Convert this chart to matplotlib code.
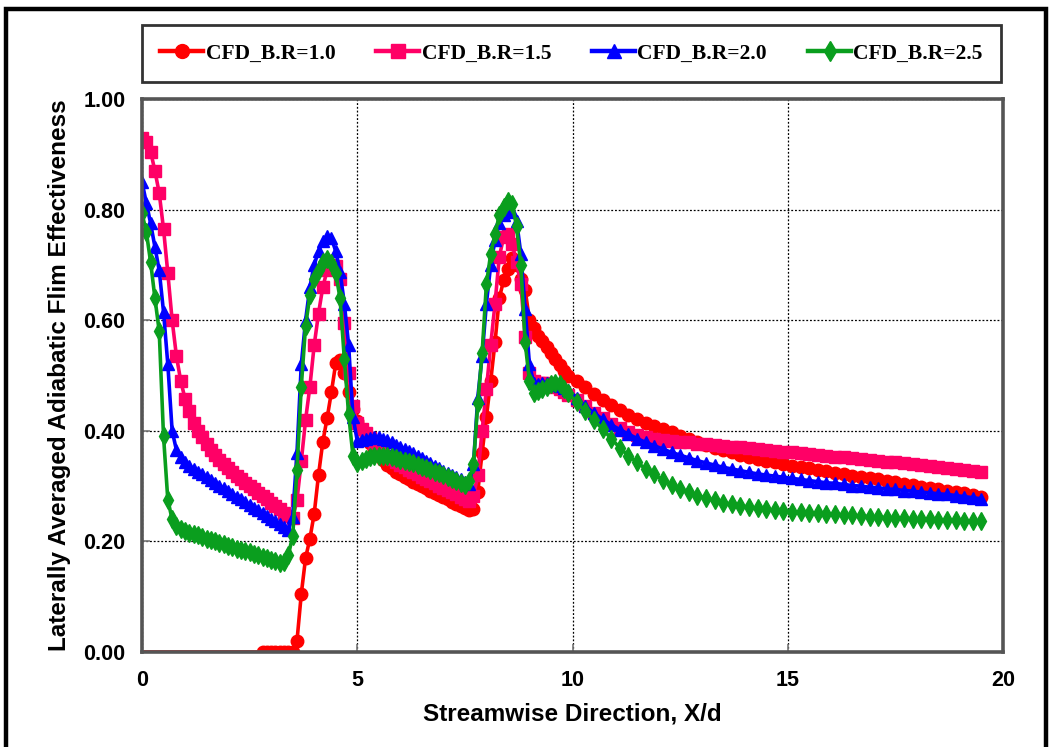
import matplotlib
matplotlib.use("Agg")
import matplotlib.pyplot as plt
from matplotlib.patches import Rectangle
from matplotlib.lines import Line2D

# Streamwise stations X/d
x_near = [0.0, 0.1, 0.2, 0.3, 0.4, 0.5, 0.6, 0.7, 0.8, 0.9,
          1.0, 1.1, 1.2, 1.3, 1.4, 1.5, 1.6, 1.7, 1.8, 1.9,
          2.0, 2.1, 2.2, 2.3, 2.4, 2.5, 2.6, 2.7, 2.8, 2.9,
          3.0, 3.1, 3.2, 3.3, 3.4, 3.5, 3.6, 3.7, 3.8, 3.9,
          4.0, 4.1, 4.2, 4.3, 4.4, 4.5, 4.6, 4.7, 4.8, 4.9,
          5.0, 5.1, 5.2, 5.3, 5.4, 5.5, 5.6, 5.7, 5.8, 5.9,
          6.0, 6.1, 6.2, 6.3, 6.4, 6.5, 6.6, 6.7, 6.8, 6.9,
          7.0, 7.1, 7.2, 7.3, 7.4, 7.5, 7.6, 7.7, 7.8, 7.9,
          8.0, 8.1, 8.2, 8.3, 8.4, 8.5, 8.6, 8.7, 8.8, 8.9,
          9.0, 9.1, 9.2, 9.3, 9.4, 9.5, 9.6, 9.7, 9.8, 9.9]
x_far = [10.1, 10.3, 10.5, 10.7, 10.9, 11.1, 11.3, 11.5, 11.7, 11.9,
         12.1, 12.3, 12.5, 12.7, 12.9, 13.1, 13.3, 13.5, 13.7, 13.9,
         14.1, 14.3, 14.5, 14.7, 14.9, 15.1, 15.3, 15.5, 15.7, 15.9,
         16.1, 16.3, 16.5, 16.7, 16.9, 17.1, 17.3, 17.5, 17.7, 17.9,
         18.1, 18.3, 18.5, 18.7, 18.9, 19.1, 19.3, 19.5]
x_d = x_near + x_far

# Laterally averaged adiabatic film effectiveness, blowing ratio 1.0
eta_br10 = [0.000, 0.000, 0.000, 0.000, 0.000, 0.000, 0.000, 0.000, 0.000, 0.000,
            0.000, 0.000, 0.000, 0.000, 0.000, 0.000, 0.000, 0.000, 0.000, 0.000,
            0.000, 0.000, 0.000, 0.000, 0.000, 0.000, 0.000, 0.000, 0.000, 0.000,
            0.000, 0.000, 0.000, 0.000, 0.000, 0.000, 0.020, 0.105, 0.170, 0.205,
            0.250, 0.320, 0.380, 0.423, 0.470, 0.522, 0.528, 0.505, 0.470, 0.440,
            0.418, 0.404, 0.391, 0.378, 0.366, 0.356, 0.347, 0.339, 0.332, 0.326,
            0.321, 0.316, 0.312, 0.308, 0.304, 0.300, 0.296, 0.292, 0.288, 0.284,
            0.280, 0.276, 0.272, 0.268, 0.264, 0.260, 0.256, 0.258, 0.290, 0.360,
            0.425, 0.490, 0.560, 0.640, 0.672, 0.692, 0.712, 0.700, 0.675, 0.655,
            0.600, 0.585, 0.572, 0.562, 0.551, 0.540, 0.529, 0.519, 0.509, 0.500,
            0.490, 0.479, 0.467, 0.456, 0.446, 0.437, 0.429, 0.422, 0.415, 0.409,
            0.403, 0.397, 0.391, 0.385, 0.379, 0.374, 0.369, 0.365, 0.361, 0.357,
            0.353, 0.349, 0.346, 0.343, 0.340, 0.337, 0.334, 0.332, 0.329, 0.327,
            0.324, 0.322, 0.319, 0.317, 0.314, 0.312, 0.309, 0.307, 0.304, 0.302,
            0.299, 0.297, 0.294, 0.292, 0.289, 0.287, 0.284, 0.280]

# Blowing ratio 1.5
eta_br15 = [0.930, 0.922, 0.905, 0.870, 0.830, 0.765, 0.685, 0.600, 0.535, 0.490,
            0.458, 0.435, 0.415, 0.400, 0.388, 0.376, 0.366, 0.357, 0.348, 0.340,
            0.333, 0.326, 0.319, 0.312, 0.306, 0.300, 0.294, 0.288, 0.282, 0.276,
            0.270, 0.264, 0.258, 0.252, 0.246, 0.242, 0.275, 0.345, 0.420, 0.480,
            0.555, 0.612, 0.660, 0.690, 0.700, 0.698, 0.675, 0.595, 0.505, 0.445,
            0.415, 0.404, 0.396, 0.387, 0.378, 0.370, 0.362, 0.355, 0.349, 0.344,
            0.339, 0.334, 0.329, 0.325, 0.321, 0.317, 0.313, 0.309, 0.305, 0.301,
            0.297, 0.293, 0.289, 0.285, 0.281, 0.277, 0.273, 0.282, 0.320, 0.400,
            0.475, 0.555, 0.630, 0.715, 0.750, 0.755, 0.738, 0.705, 0.665, 0.570,
            0.505, 0.490, 0.487, 0.486, 0.486, 0.484, 0.480, 0.476, 0.471, 0.465,
            0.456, 0.444, 0.433, 0.423, 0.413, 0.405, 0.398, 0.393, 0.389, 0.386,
            0.384, 0.382, 0.380, 0.379, 0.377, 0.376, 0.374, 0.373, 0.371, 0.370,
            0.368, 0.367, 0.365, 0.364, 0.362, 0.361, 0.359, 0.358, 0.356, 0.355,
            0.353, 0.352, 0.350, 0.349, 0.347, 0.346, 0.344, 0.343, 0.341, 0.340,
            0.338, 0.336, 0.335, 0.333, 0.331, 0.330, 0.328, 0.326]

# Blowing ratio 2.0
eta_br20 = [0.850, 0.812, 0.775, 0.733, 0.690, 0.615, 0.520, 0.400, 0.365, 0.352,
            0.344, 0.337, 0.331, 0.326, 0.321, 0.316, 0.311, 0.306, 0.301, 0.296,
            0.291, 0.286, 0.281, 0.276, 0.271, 0.266, 0.261, 0.256, 0.251, 0.246,
            0.241, 0.236, 0.231, 0.226, 0.221, 0.245, 0.360, 0.520, 0.600, 0.660,
            0.700, 0.725, 0.743, 0.752, 0.748, 0.725, 0.688, 0.630, 0.555, 0.425,
            0.382, 0.383, 0.385, 0.387, 0.388, 0.388, 0.386, 0.383, 0.379, 0.375,
            0.371, 0.367, 0.363, 0.359, 0.355, 0.351, 0.346, 0.342, 0.337, 0.333,
            0.328, 0.324, 0.320, 0.316, 0.312, 0.308, 0.304, 0.340, 0.460, 0.535,
            0.630, 0.700, 0.745, 0.775, 0.790, 0.800, 0.795, 0.780, 0.720, 0.620,
            0.520, 0.486, 0.485, 0.486, 0.486, 0.485, 0.483, 0.481, 0.478, 0.473,
            0.460, 0.444, 0.432, 0.421, 0.411, 0.402, 0.394, 0.386, 0.379, 0.373,
            0.367, 0.361, 0.356, 0.351, 0.346, 0.342, 0.338, 0.334, 0.331, 0.328,
            0.325, 0.322, 0.320, 0.318, 0.316, 0.314, 0.312, 0.310, 0.308, 0.306,
            0.305, 0.303, 0.301, 0.300, 0.298, 0.297, 0.295, 0.294, 0.292, 0.291,
            0.289, 0.288, 0.286, 0.285, 0.283, 0.281, 0.279, 0.277]

# Blowing ratio 2.5
eta_br25 = [0.793, 0.760, 0.705, 0.640, 0.580, 0.390, 0.275, 0.240, 0.228, 0.222,
            0.219, 0.216, 0.213, 0.211, 0.208, 0.205, 0.203, 0.200, 0.198, 0.195,
            0.192, 0.190, 0.187, 0.185, 0.182, 0.180, 0.177, 0.175, 0.172, 0.170,
            0.167, 0.164, 0.161, 0.162, 0.175, 0.210, 0.330, 0.480, 0.590, 0.645,
            0.675, 0.690, 0.705, 0.710, 0.703, 0.685, 0.640, 0.530, 0.430, 0.355,
            0.342, 0.345, 0.349, 0.352, 0.354, 0.355, 0.355, 0.354, 0.352, 0.350,
            0.348, 0.346, 0.344, 0.341, 0.338, 0.335, 0.332, 0.329, 0.326, 0.323,
            0.320, 0.317, 0.313, 0.309, 0.305, 0.302, 0.310, 0.340, 0.450, 0.540,
            0.665, 0.720, 0.755, 0.790, 0.805, 0.815, 0.810, 0.770, 0.700, 0.560,
            0.490, 0.468, 0.472, 0.476, 0.480, 0.484, 0.486, 0.484, 0.476, 0.468,
            0.452, 0.435, 0.419, 0.403, 0.386, 0.369, 0.355, 0.343, 0.331, 0.321,
            0.311, 0.302, 0.295, 0.289, 0.283, 0.278, 0.274, 0.270, 0.267, 0.264,
            0.262, 0.260, 0.258, 0.256, 0.255, 0.254, 0.253, 0.252, 0.251, 0.250,
            0.249, 0.248, 0.247, 0.246, 0.245, 0.244, 0.243, 0.242, 0.242, 0.241,
            0.240, 0.240, 0.239, 0.238, 0.238, 0.237, 0.237, 0.236]

series_labels = ["CFD_B.R=1.0", "CFD_B.R=1.5", "CFD_B.R=2.0", "CFD_B.R=2.5"]
x_ticks = [0, 5, 10, 15, 20]
y_ticks = [0.0, 0.2, 0.4, 0.6, 0.8, 1.0]

W, H = 1051, 747
fig = plt.figure(figsize=(W / 100, H / 100), dpi=100)
fig.patch.set_facecolor("white")

# outer frame around the whole figure (bottom edge runs off the canvas)
fig.patches.append(Rectangle((6 / W, -10 / H), 1040 / W, (H + 1) / H,
                             transform=fig.transFigure, fill=False,
                             edgecolor="black", linewidth=3.2, zorder=0))

ax = fig.add_axes([142 / W, 1 - 652 / H, (1003 - 142) / W, (652 - 99) / H])

styles = [
    dict(color="#FF0000", marker="o", ms=9.0),
    dict(color="#FF0066", marker="s", ms=8.5),
    dict(color="#0000FF", marker="^", ms=9.0),
    dict(color="#0A9E1E", marker="d", ms=9.0),
]
curves = [eta_br10, eta_br15, eta_br20, eta_br25]
handles = []
for i, (yv, st, lab) in enumerate(zip(curves, styles, series_labels)):
    kw = dict(color=st["color"], marker=st["marker"], markersize=st["ms"],
              markeredgecolor=st["color"], markerfacecolor=st["color"],
              linewidth=2.6, label=lab, zorder=3 + i)
    if i == 0:
        kw["markevery"] = list(range(28, len(x_d)))
    ax.plot(x_d, yv, **kw)
    handles.append(Line2D([], [], color=st["color"], marker=st["marker"],
                          markersize=st["ms"] + 1, linewidth=3.2,
                          markeredgecolor=st["color"], markerfacecolor=st["color"]))

ax.set_xlim(0, 20)
ax.set_ylim(0, 1.0)
ax.set_xticks(x_ticks)
ax.set_yticks(y_ticks)
ax.set_yticklabels([f"{v:.2f}" for v in y_ticks])
ax.grid(True, color="black", linestyle=(0, (1.5, 1.5)), linewidth=0.9)
ax.set_axisbelow(True)

for s in ax.spines.values():
    s.set_color("#555555")
    s.set_linewidth(2.6)
    s.set_zorder(10)

ax.tick_params(direction="in", length=6, width=1.2, color="#777777",
               labelsize=15.5)
ax.tick_params(axis="x", pad=13)
ax.tick_params(axis="y", pad=12)
for lab in ax.get_xticklabels() + ax.get_yticklabels():
    lab.set_fontfamily("Liberation Sans")
    lab.set_fontweight("bold")

ax.set_xlabel("Streamwise Direction, X/d", fontsize=17.5, fontweight="bold",
              family="Liberation Sans", labelpad=8)
ax.set_ylabel("Laterally Averaged Adiabatic Flim Effectiveness", fontsize=17.5,
              fontweight="bold", family="Liberation Sans", labelpad=9)

leg = fig.legend(handles, series_labels, loc="center", ncol=4, mode="expand",
                 bbox_to_anchor=(142 / W, 1 - 83 / H, (1001 - 142) / W, 59 / H),
                 prop=dict(family="Liberation Serif", weight="bold", size=15.5),
                 frameon=True, fancybox=False, borderpad=0.85,
                 handlelength=2.0, handletextpad=0.1, columnspacing=1.0,
                 borderaxespad=0)
leg.get_frame().set_edgecolor("black")
leg.get_frame().set_linewidth(2.0)

fig.savefig("out.png", dpi=100, facecolor="white")
